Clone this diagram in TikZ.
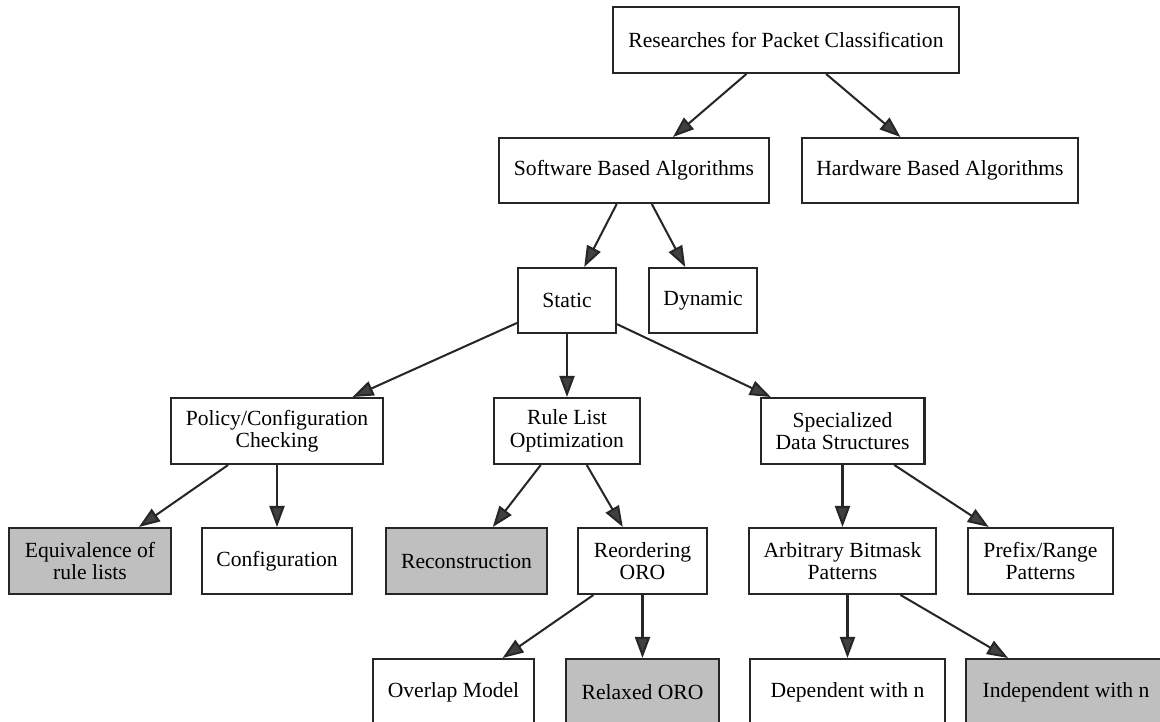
\documentclass[tikz,border=0pt]{standalone}
\usepackage{fontspec}
\setmainfont{Liberation Serif}
\usetikzlibrary{arrows.meta}

\tikzset{
  box/.style={draw=black!85, line width=1.15pt, minimum height=1.32cm, align=center,
    inner sep=2pt, font=\fontsize{12.3}{12.8}\selectfont},
  done/.style={box, fill=gray!50},
  edge/.style={draw=black!85, line width=1.15pt,
    -{Triangle[length=0.42cm, width=0.3cm, fill=black!75]}}
}

\begin{document}
\begin{tikzpicture}[x=0.02cm, y=-0.02cm]
	%%%%% START %%%%%
	
	\useasboundingbox (0, 0) rectangle (1160, 722);
	\clip (0, 0) rectangle (1160, 722);
	\fill[white] (0, 0) rectangle (1160, 722);
	
	% level 0 and 1
	\node[box, minimum width=6.92cm] (root) at (786, 40) {Researches for Packet Classification};
	\node[box, minimum width=5.4cm, minimum height=1.3cm] (soft) at (634, 170.5) {Software Based Algorithms};
	\node[box, minimum width=5.52cm, minimum height=1.3cm] (hard) at (940, 170.5) {Hardware Based Algorithms};
	
	% level 2
	\node[box, minimum width=1.96cm, minimum height=1.3cm] (static) at (567, 300.5) {Static};
	\node[box, minimum width=2.16cm, minimum height=1.3cm] (dynamic) at (703, 300.5) {Dynamic};
	
	% level 3
	\node[box, minimum width=4.26cm] (policy) at (277, 431) {Policy/Configuration\\Checking};
	\node[box, minimum width=2.92cm] (rulelist) at (567, 431) {Rule List\\Optimization};
	\node[box, minimum width=3.28cm] (special) at (842.5, 431) {Specialized\\Data Structures};
	
	% level 4
	\node[done, minimum width=3.26cm] (equiv) at (90, 561) {Equivalence of\\rule lists};
	\node[box, minimum width=3.02cm] (config) at (277, 561) {Configuration};
	\node[done, minimum width=3.22cm] (recon) at (466.5, 561) {Reconstruction};
	\node[box, minimum width=2.58cm] (reorder) at (642.5, 561) {Reordering\\ORO};
	\node[box, minimum width=3.74cm] (bitmask) at (842.5, 561) {Arbitrary Bitmask\\Patterns};
	\node[box, minimum width=2.9cm] (prefix) at (1040.5, 561) {Prefix/Range\\Patterns};
	
	% level 5, cut by the bottom edge
	\node[box, minimum width=3.22cm] (overlap) at (453.5, 692) {Overlap Model};
	\node[done, minimum width=3.06cm] (relaxed) at (642.5, 692) {Relaxed ORO};
	\node[box, minimum width=3.9cm] (depn) at (847.5, 692) {Dependent with n};
	\node[done, minimum width=4.0cm] (indepn) at (1066, 692) {Independent with n};
	
	% connectors
	\draw[edge] (root) -- (soft);
	\draw[edge] (root) -- (hard);
	\draw[edge] (soft) -- (static);
	\draw[edge] (soft) -- (dynamic);
	\draw[edge] (static) -- (policy);
	\draw[edge] (static) -- (rulelist);
	\draw[edge] (static) -- (special);
	\draw[edge] (policy) -- (equiv);
	\draw[edge] (policy) -- (config);
	\draw[edge] (rulelist) -- (recon);
	\draw[edge] (rulelist) -- (reorder);
	\draw[edge] (special) -- (bitmask);
	\draw[edge] (special) -- (prefix);
	\draw[edge] (reorder) -- (overlap);
	\draw[edge] (reorder) -- (relaxed);
	\draw[edge] (bitmask.south -| depn.north) -- (depn);
	\draw[edge] (bitmask) -- (indepn);
	
	%%%%% END %%%%%
\end{tikzpicture}
\end{document}
